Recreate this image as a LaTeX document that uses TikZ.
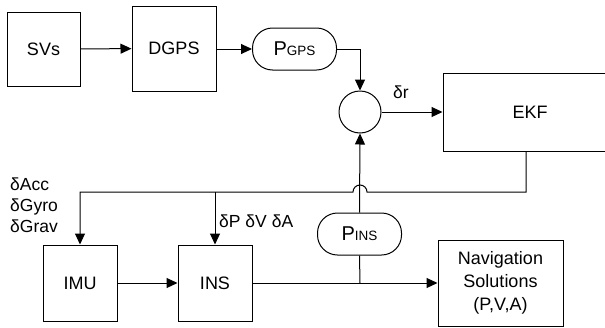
\documentclass[tikz,border=0pt]{standalone}
\usepackage{fontspec}
\setmainfont{Liberation Sans}
\usetikzlibrary{arrows.meta}
\tikzset{
  blk/.style={draw, line width=1pt, inner sep=0pt, font=\fontsize{18}{22}\selectfont},
  pill/.style={draw, line width=1pt, rounded corners=20pt, inner sep=0pt, minimum width=84pt, minimum height=42pt},
  sumc/.style={draw, line width=1pt, circle, minimum size=42pt, inner sep=0pt},
  conn/.style={line width=1pt},
  arr/.style={line width=1pt, -{Triangle[length=11pt,width=10pt]}},
  lbl/.style={inner sep=0pt, font=\fontsize{17.5}{21}\selectfont},
}
\begin{document}
\begin{tikzpicture}[x=1pt,y=-1pt]
\path[use as bounding box, clip] (0,0) rectangle (605,327);
% boxes
\node[blk, minimum width=73pt, minimum height=74pt] (svs) at (43.5,49) {SVs};
\node[blk, minimum width=84pt, minimum height=85pt] (dgps) at (174,48.5) {DGPS};
\node[pill] (pgps) at (294.5,49) {\fontsize{20}{22}\selectfont P\fontsize{13.5}{15}\selectfont GPS};
\node[sumc] (sum) at (360,112) {};
\node[blk, minimum width=174pt, minimum height=78pt] (ekf) at (530,112) {EKF};
\node[blk, minimum width=74pt, minimum height=76pt] (imu) at (80,283) {IMU};
\node[blk, minimum width=74pt, minimum height=76pt] (ins) at (215,283) {INS};
\node[pill] (pins) at (359.5,234) {\fontsize{20}{22}\selectfont P\fontsize{13.5}{15}\selectfont INS};
\node[blk, minimum width=125pt, minimum height=86pt, align=center] (nav) at (500.5,283)
  {Navigation\\[1pt]Solutions\\[1pt](P,V,A)};
% labels
\node[lbl] (dr) at (401,92) {δr};
\node[lbl, anchor=west] (dpva) at (219,221) {δP δV δA};
\node[lbl, anchor=north west, align=left] (dacc) at (10,178) {δAcc\\δGyro\\δGrav};
% coordinates
\coordinate (fbstart) at (526,151);
\coordinate (fbcorner) at (526,192);
\coordinate (hopR) at (367,192);
\coordinate (fbleft) at (80,192);
\coordinate (brins) at (215,192);
\coordinate (gpscorner) at (360,49);
\coordinate (junc) at (360,283);
% connectors
\draw[arr] (svs) -- (dgps);
\draw[arr] (dgps.east |- pgps) -- (pgps);
\draw[arr] (pgps.east) -- (gpscorner) -- (sum.north);
\draw[arr] (sum.east) -- (ekf.west |- sum);
\draw[arr] (fbstart) -- (fbcorner) -- (hopR) arc[start angle=0, end angle=-180, radius=7] -- (fbleft) -- (imu.north);
\draw[arr] (brins) -- (ins.north);
\draw[arr] (pins.north) -- (sum.south);
\draw[arr] (imu) -- (ins);
\draw[arr] (ins.east) -- (nav.west);
\draw[conn] (pins.south) -- (junc);
\end{tikzpicture}
\end{document}
